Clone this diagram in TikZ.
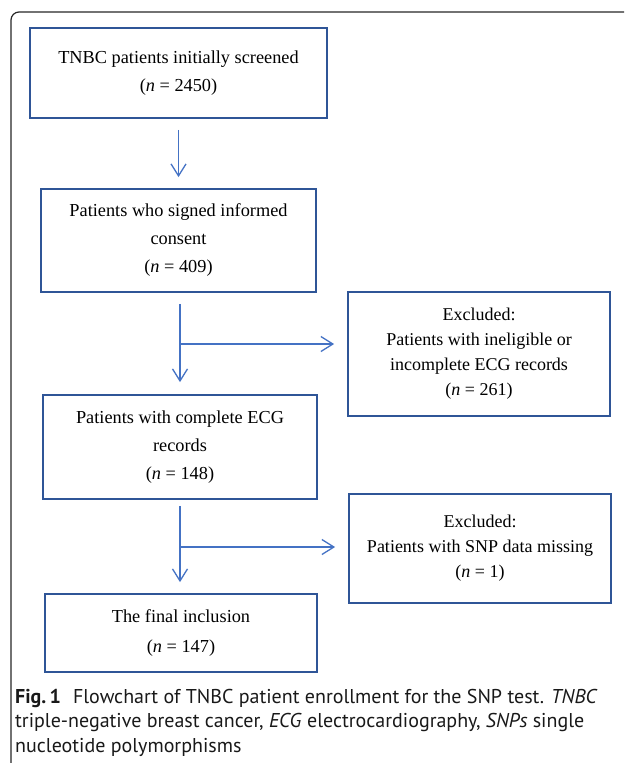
\documentclass[tikz,border=0pt]{standalone}
\usepackage{fontspec}
\setmainfont{Liberation Serif}
\newfontfamily\capfont{PT Sans}
\usetikzlibrary{arrows.meta}
\definecolor{boxblue}{RGB}{47,85,151}
\definecolor{arrblue}{RGB}{68,114,196}
\tikzstyle{stage}=[draw=boxblue,line width=1.8pt,align=center,inner sep=0pt]

\begin{document}
\begin{tikzpicture}[x=1pt,y=-1pt]
    \tikzstyle{excl}=[stage,font=\fontsize{18}{25}\selectfont]
    \tikzstyle{flow}=[draw=arrblue,line width=1.3pt,-{Straight Barb[length=12pt,width=15pt]}]
    \useasboundingbox (0,0) rectangle (624,763);
    % outer frame
    \draw[line width=1.2pt,black!85,rounded corners=8pt] (11,763) -- (11,12) -- (624,12);
    % main column
    \node[stage,minimum width=297pt,minimum height=90pt,font=\fontsize{18.3}{28}\selectfont] (S1) at (178.5,73)
        {TNBC patients initially screened\\(\textit{n} = 2450)};
    \node[stage,minimum width=275pt,minimum height=103pt,font=\fontsize{18.3}{28}\selectfont] (S2) at (178.5,240.5)
        {Patients who signed informed\\consent\\(\textit{n} = 409)};
    \node[stage,minimum width=274pt,minimum height=104pt,font=\fontsize{18.3}{28}\selectfont] (S3) at (180,447)
        {Patients with complete ECG\\records\\(\textit{n} = 148)};
    \node[stage,minimum width=272pt,minimum height=78pt,font=\fontsize{18.3}{30}\selectfont] (S4) at (181,633)
        {The final inclusion\\(\textit{n} = 147)};
    % exclusions
    \node[excl,minimum width=262pt,minimum height=124pt] (E1) at (479,354)
        {Excluded:\\Patients with ineligible or\\incomplete ECG records\\(\textit{n} = 261)};
    \node[excl,minimum width=262pt,minimum height=109pt] (E2) at (480,548.5)
        {Excluded:\\Patients with SNP data missing\\(\textit{n} = 1)};
    % connectors
    \coordinate (J1) at (180,344);
    \coordinate (J2) at (180,547);
    \draw[flow,shorten <=11pt,shorten >=11pt] (S1.south -| S2.north) -- (S2.north);
    \draw[flow,shorten <=11pt,shorten >=12pt] (S2.south -| J1) -- (S3.north -| J1);
    \draw[flow,shorten >=13pt] (J1) -- (J1 -| E1.west);
    \draw[flow,shorten <=6pt,shorten >=11pt] (S3.south -| J2) -- (S4.north -| J2);
    \draw[flow,shorten >=13pt] (J2) -- (J2 -| E2.west);
    % caption
    \node[anchor=base west,align=left,inner sep=0pt,text=black!90,
          font=\capfont\fontsize{20}{24.5}\selectfont] (CAP) at (15,752)
        {\textbf{Fig.\,1}\hspace{0.6em}Flowchart of TNBC patient enrollment for the SNP test. \textit{TNBC}\\
         triple-negative breast cancer, \textit{ECG} electrocardiography, \textit{SNPs} single\\
         nucleotide polymorphisms};
\end{tikzpicture}
\end{document}
